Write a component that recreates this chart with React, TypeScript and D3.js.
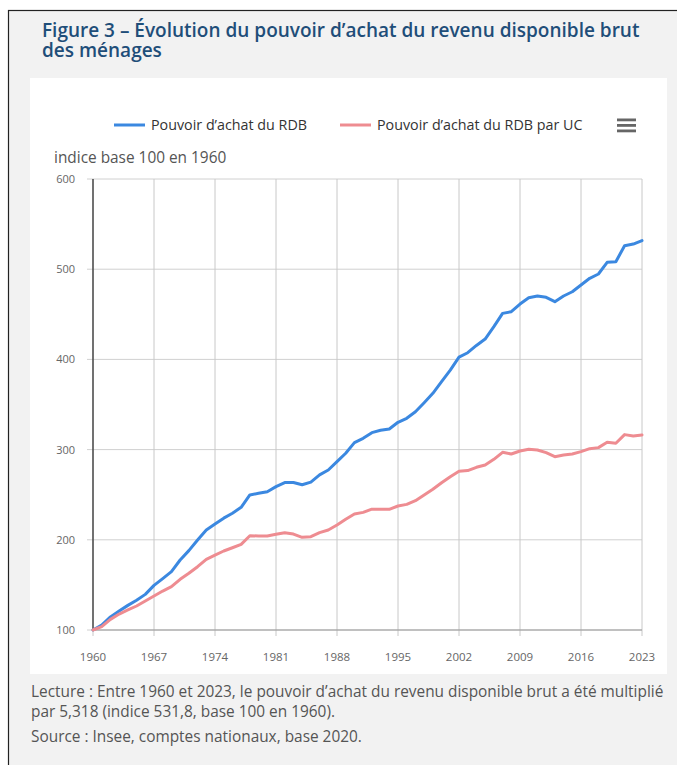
import React from "react";
import * as d3 from "d3";

const years: number[] = d3.range(1960, 2024);

const rdb: number[] = [
  100, 105.5, 114.5, 121, 127.3, 133, 139.5, 149.5, 157, 164.7,
  177.6, 188, 199.8, 210.9, 217.5, 224, 229.5, 236, 249.7, 251.5,
  253.3, 258.9, 263.4, 263.5, 261, 264, 272, 277.4, 286.6, 296,
  307.7, 312.5, 318.8, 321.4, 322.8, 330.3, 334.7, 342, 352, 362.4,
  375.3, 388.2, 402.5, 407.4, 415.5, 422.6, 436.3, 451, 452.9, 461.4,
  468.4, 470.3, 468.8, 464, 470.3, 475, 482.5, 489.9, 494.7, 507.6,
  508.3, 526, 527.9, 531.8,
];

const rdbUc: number[] = [
  100, 103.7, 111.8, 117.7, 122.2, 126.6, 132.2, 137.7, 143.2, 148,
  156.2, 162.9, 170.2, 178.4, 183.1, 187.6, 191.2, 195, 204.5, 204.2,
  204.2, 206.1, 207.9, 206.4, 202.7, 203.4, 207.9, 210.9, 216.4, 222.7,
  228.6, 230.4, 234, 234, 233.8, 237.5, 239.3, 243.4, 249.7, 256,
  263.3, 270, 276, 276.7, 280.4, 282.9, 289.2, 297, 295.1, 298.4,
  300.3, 299.6, 296.6, 292.1, 294, 295.1, 297.7, 301, 302.2, 308.1,
  307, 316.6, 315.1, 316.2,
];

const xTicks: number[] = [1960, 1967, 1974, 1981, 1988, 1995, 2002, 2009, 2016, 2023];
const yTicks: number[] = [100, 200, 300, 400, 500, 600];

const seriesNames: string[] = ["Pouvoir d\u2019achat du RDB", "Pouvoir d\u2019achat du RDB par UC"];
const seriesColors: string[] = ["#3b88e0", "#ee8c91"];

const titleLines: string[] = [
  "Figure 3 \u2013 \u00C9volution du pouvoir d\u2019achat du revenu disponible brut",
  "des m\u00E9nages",
];
const footLines: string[] = [
  "Lecture : Entre 1960 et 2023, le pouvoir d\u2019achat du revenu disponible brut a \u00E9t\u00E9 multipli\u00E9",
  "par 5,318 (indice 531,8, base 100 en 1960).",
  "Source : Insee, comptes nationaux, base 2020.",
];
const yTitle = "indice base 100 en 1960";

const W = 677;
const H = 765;
const FONT = "'Open Sans', 'Noto Sans', sans-serif";

export default function App() {
  const x = d3.scaleLinear().domain([1960, 2023]).range([93, 642]);
  const y = d3.scaleLinear().domain([100, 600]).range([630, 179]);
  const line = d3
    .line<number>()
    .x((_, i) => x(years[i]))
    .y((d) => y(d))
    .curve(d3.curveLinear);
  const series = [rdb, rdbUc];

  return (
    <svg
      width={W}
      height={H}
      style={{ position: "fixed", left: 0, top: 0, background: "#fff" }}
      fontFamily={FONT}
    >
      {/* outer frame */}
      <rect x={8.5} y={10.5} width={W} height={H} fill="#f2f2f2" stroke="#222" strokeWidth={1.2} />
      {/* title */}
      {titleLines.map((t, i) => (
        <text key={i} x={42} y={37 + i * 19.5} fontSize={19} fontWeight={600} fill="#1f4e79">
          {t}
        </text>
      ))}
      {/* card */}
      <rect x={30} y={78} width={637} height={596} fill="#fff" />

      {/* legend */}
      {seriesNames.map((n, i) => {
        const lx = i === 0 ? 114 : 340;
        return (
          <g key={n}>
            <line x1={lx} x2={lx + 31} y1={125} y2={125} stroke={seriesColors[i]} strokeWidth={3} />
            <text x={lx + 37} y={130} fontSize={14.3} fill="#333">
              {n}
            </text>
          </g>
        );
      })}
      {/* menu icon */}
      {[0, 1, 2].map((k) => (
        <rect key={k} x={617} y={118.5 + k * 5.5} width={19} height={2.8} fill="#666" />
      ))}

      {/* y title */}
      <text x={54} y={163} fontSize={15.4} fill="#555">
        {yTitle}
      </text>

      {/* horizontal grid */}
      {yTicks.map((t) => (
        <g key={t}>
          <line x1={87} x2={642} y1={y(t)} y2={y(t)} stroke="#d0d0d0" strokeWidth={1} />
          <text x={75} y={y(t) + 4} fontSize={11} fill="#666" textAnchor="end">
            {t}
          </text>
        </g>
      ))}
      {/* vertical grid + x ticks */}
      {xTicks.map((t) => (
        <g key={t}>
          <line x1={x(t)} x2={x(t)} y1={179} y2={636} stroke="#c8c8c8" strokeWidth={1} />
          <text x={x(t)} y={661} fontSize={11.5} fill="#666" textAnchor="middle">
            {t}
          </text>
        </g>
      ))}
      {/* axes */}
      <line x1={93} x2={642} y1={630} y2={630} stroke="#999" strokeWidth={1} />
      <line x1={93} x2={93} y1={179} y2={630} stroke="#333" strokeWidth={1.3} />

      {/* series */}
      {series.map((s, i) => (
        <path
          key={i}
          d={line(s) || ""}
          fill="none"
          stroke={seriesColors[i]}
          strokeWidth={3}
          strokeLinejoin="round"
          strokeLinecap="round"
        />
      ))}

      {/* footnotes */}
      {footLines.map((t, i) => (
        <text key={i} x={31} y={i < 2 ? 697 + i * 19.5 : 742} fontSize={15.4} fill="#555">
          {t}
        </text>
      ))}
    </svg>
  );
}
